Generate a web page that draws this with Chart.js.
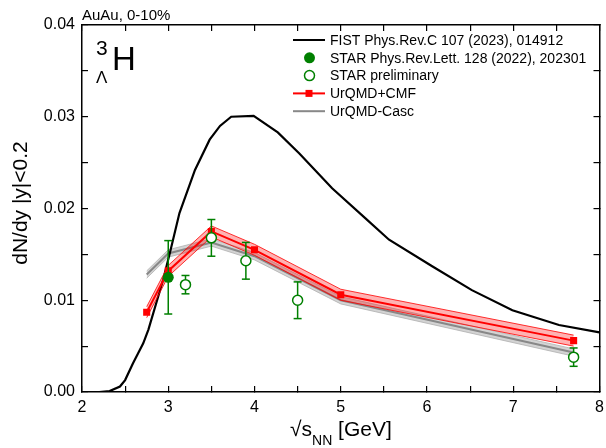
<!DOCTYPE html>
<html>
<head>
<meta charset="utf-8">
<script src="https://cdn.jsdelivr.net/npm/chart.js@4.4.0/dist/chart.umd.min.js"></script>
<style>
body { margin: 0; background: #fff; }
</style>
</head>
<body>
<canvas id="yieldChart" width="606" height="448"></canvas>
<script>
// FIST model curve
const fistX = [2.0, 2.2, 2.32, 2.44, 2.5, 2.59, 2.71, 2.77, 2.94, 3.02, 3.13, 3.31, 3.48, 3.6, 3.73, 3.99, 4.27, 4.52, 4.9, 5.29, 5.56, 6.06, 6.52, 6.99, 7.53, 8.0];
const fistY = [0, 0, 0.0001, 0.0006, 0.0013, 0.0031, 0.0053, 0.0068, 0.0122, 0.0152, 0.0195, 0.0242, 0.0275, 0.0290, 0.0300, 0.0301, 0.0283, 0.0260, 0.0222, 0.0189, 0.0166, 0.0137, 0.0111, 0.0089, 0.0073, 0.0065];

// STAR published
const starX = [3.0];
const starY = [0.0125];
const starErr = [0.004];

// STAR preliminary
const prelimX = [3.2, 3.5, 3.9, 4.5, 7.7];
const prelimY = [0.0117, 0.0168, 0.0143, 0.0100, 0.0038];
const prelimErr = [0.001, 0.002, 0.002, 0.002, 0.001];

// UrQMD+CMF and UrQMD cascade
const urqmdX = [2.75, 3.0, 3.5, 4.0, 5.0, 7.7];
const cmfY = [0.0087, 0.0132, 0.0175, 0.0155, 0.0106, 0.0056];
const cmfErr = [0.0006, 0.0006, 0.0006, 0.0006, 0.0006, 0.0006];
const cascY = [0.0128, 0.0151, 0.0163, 0.0148, 0.0100, 0.0043];
const cascErr = [0.0004, 0.0004, 0.0004, 0.0004, 0.0004, 0.0004];

// tick marks (labels only on the whole ones)
const xTickPos = [2, 2.5, 3, 3.5, 4, 4.5, 5, 5.5, 6, 6.5, 7, 7.5, 8];
const yTickPos = [0, 0.005, 0.01, 0.015, 0.02, 0.025, 0.03, 0.035, 0.04];

const FONT = 'Liberation Sans, Arial, sans-serif';
const GREEN = '#008000';
const RED = '#ff0000';
const GRAY = '#888888';

const pts = (xs, ys) => xs.map((x, i) => ({ x: x, y: ys[i] }));
const shift = (xs, ys, es, s) => xs.map((x, i) => ({ x: x, y: ys[i] + s * es[i] }));

const legendItems = [
    { label: 'FIST Phys.Rev.C 107 (2023), 014912', kind: 'line', color: '#000' },
    { label: 'STAR Phys.Rev.Lett. 128 (2022), 202301', kind: 'dot', color: GREEN },
    { label: 'STAR preliminary', kind: 'ring', color: GREEN },
    { label: 'UrQMD+CMF', kind: 'lineSquare', color: RED },
    { label: 'UrQMD-Casc', kind: 'line', color: GRAY }
];

// inward tick marks and a solid edge on every side of the plot
const sideGrid = { display: true, drawOnChartArea: false, drawTicks: true, tickLength: -6, color: '#000', lineWidth: 1.2 };
const sideBorder = { display: true, color: '#000', width: 1.5 };

// vertical error bars with caps, drawn just before their dataset
const errorBars = {
    id: 'errorBars',
    beforeDatasetDraw(chart, args) {
        const ds = chart.data.datasets[args.index];
        if (!ds.errors) return;
        const c = chart.ctx, xs = chart.scales.x, ys = chart.scales.y;
        c.save();
        c.fillStyle = GREEN;
        ds.data.forEach((p, i) => {
            const px = xs.getPixelForValue(p.x);
            const top = ys.getPixelForValue(p.y + ds.errors[i]);
            const bot = ys.getPixelForValue(p.y - ds.errors[i]);
            c.fillRect(px - 0.75, top, 1.5, bot - top);
            c.fillRect(px - 4, top - 0.75, 8, 1.5);
            c.fillRect(px - 4, bot - 0.75, 8, 1.5);
        });
        c.restore();
    }
};

// labels and legend
const decorations = {
    id: 'decorations',
    afterDraw(chart) {
        const c = chart.ctx;
        c.save();
        c.fillStyle = '#000';
        c.textBaseline = 'alphabetic';
        c.textAlign = 'left';
        c.font = '15px ' + FONT;
        c.fillText('AuAu, 0-10%', 82, 20);

        // hypertriton symbol
        c.font = '21px ' + FONT;
        c.fillText('3', 96, 55);
        c.font = '33px ' + FONT;
        c.fillText('H', 112, 70);
        c.font = '17px ' + FONT;
        c.fillText('\u039B', 96, 83);

        // x axis title
        c.font = '21px ' + FONT;
        let x = 290;
        c.fillText('\u221As', x, 436);
        x += c.measureText('\u221As').width;
        c.font = '14px ' + FONT;
        c.fillText('NN', x, 445);
        x += c.measureText('NN').width;
        c.font = '21px ' + FONT;
        c.fillText(' [GeV]', x, 436);

        // y axis title
        c.save();
        c.translate(27, 203);
        c.rotate(-Math.PI / 2);
        c.textAlign = 'center';
        c.fillText('dN/dy |y|<0.2', 0, 0);
        c.restore();

        // legend
        c.font = '14px ' + FONT;
        c.textBaseline = 'middle';
        legendItems.forEach((it, i) => {
            const y = 40 + i * 17.8;
            c.fillStyle = it.color;
            c.strokeStyle = it.color;
            if (it.kind === 'line' || it.kind === 'lineSquare') c.fillRect(293, y - 1, 32, 2);
            if (it.kind === 'lineSquare') c.fillRect(305.5, y - 3.5, 7, 7);
            if (it.kind === 'dot') {
                c.beginPath(); c.arc(309.5, y, 5.5, 0, Math.PI * 2); c.fill();
            }
            if (it.kind === 'ring') {
                c.lineWidth = 1.5;
                c.beginPath(); c.arc(309.5, y, 5, 0, Math.PI * 2); c.stroke();
            }
            c.fillStyle = '#000';
            c.fillText(it.label, 330, y + 1);
        });
        c.restore();
    }
};

const ctx = document.getElementById('yieldChart').getContext('2d');
const chart = new Chart(ctx, {
    type: 'scatter',
    data: {
        datasets: [
            {
                data: pts(starX, starY), errors: starErr,
                pointStyle: 'circle', pointRadius: 5.5,
                backgroundColor: GREEN, borderColor: GREEN, borderWidth: 0
            },
            {
                data: pts(prelimX, prelimY), errors: prelimErr,
                pointStyle: 'circle', pointRadius: 5,
                backgroundColor: '#fff', borderColor: GREEN, borderWidth: 1.5
            },
            {
                data: pts(urqmdX, cmfY), showLine: true,
                borderColor: RED, borderWidth: 2,
                pointStyle: 'rect', pointRadius: 5, backgroundColor: RED, pointBorderWidth: 0
            },
            {
                data: shift(urqmdX, cmfY, cmfErr, 1), showLine: true,
                borderColor: RED, borderWidth: 0.8, pointRadius: 0
            },
            {
                data: shift(urqmdX, cmfY, cmfErr, -1), showLine: true,
                borderColor: RED, borderWidth: 0.8, pointRadius: 0,
                fill: '-1', backgroundColor: 'rgba(255,0,0,0.3)'
            },
            {
                data: pts(fistX, fistY), showLine: true,
                borderColor: '#000', borderWidth: 2.2, pointRadius: 0
            },
            {
                data: pts(urqmdX, cascY), showLine: true,
                borderColor: GRAY, borderWidth: 2, pointRadius: 0
            },
            {
                data: shift(urqmdX, cascY, cascErr, 1), showLine: true,
                borderColor: '#b0b0b0', borderWidth: 0.8, pointRadius: 0
            },
            {
                data: shift(urqmdX, cascY, cascErr, -1), showLine: true,
                borderColor: '#b0b0b0', borderWidth: 0.8, pointRadius: 0,
                fill: '-1', backgroundColor: 'rgba(128,128,128,0.35)'
            }
        ]
    },
    options: {
        responsive: false,
        animation: false,
        layout: { padding: { top: 25, right: 5, left: 0, bottom: 0 } },
        elements: { line: { tension: 0 } },
        plugins: {
            legend: { display: false },
            tooltip: { enabled: false }
        },
        scales: {
            x: {
                type: 'linear', position: 'bottom', min: 2, max: 8,
                afterFit: s => { s.height = 56; s.paddingLeft = 0; s.paddingRight = 0; },
                afterBuildTicks: s => { s.ticks = xTickPos.map(v => ({ value: v })); },
                grid: sideGrid,
                border: sideBorder,
                ticks: {
                    autoSkip: false, maxRotation: 0, padding: 12, color: '#000',
                    font: { family: FONT, size: 16 },
                    callback: v => Number.isInteger(v) ? String(v) : ''
                }
            },
            x2: {
                type: 'linear', axis: 'x', position: 'top', min: 2, max: 8,
                afterFit: s => { s.height = 0; s.paddingLeft = 0; s.paddingRight = 0; },
                afterBuildTicks: s => { s.ticks = xTickPos.map(v => ({ value: v })); },
                grid: sideGrid,
                border: sideBorder,
                ticks: { display: false, autoSkip: false }
            },
            y: {
                type: 'linear', position: 'left', min: 0, max: 0.04,
                afterFit: s => { s.width = 82; s.paddingTop = 0; s.paddingBottom = 0; },
                afterBuildTicks: s => { s.ticks = yTickPos.map(v => ({ value: v })); },
                grid: sideGrid,
                border: sideBorder,
                ticks: {
                    autoSkip: false, padding: 13, color: '#000',
                    font: { family: FONT, size: 16 },
                    callback: v => Math.round(v * 200) % 2 === 0 ? v.toFixed(2) : ''
                }
            },
            y2: {
                type: 'linear', axis: 'y', position: 'right', min: 0, max: 0.04,
                afterFit: s => { s.width = 0; s.paddingTop = 0; s.paddingBottom = 0; },
                afterBuildTicks: s => { s.ticks = yTickPos.map(v => ({ value: v })); },
                grid: sideGrid,
                border: sideBorder,
                ticks: { display: false, autoSkip: false }
            }
        }
    },
    plugins: [errorBars, decorations]
});
</script>
</body>
</html>
